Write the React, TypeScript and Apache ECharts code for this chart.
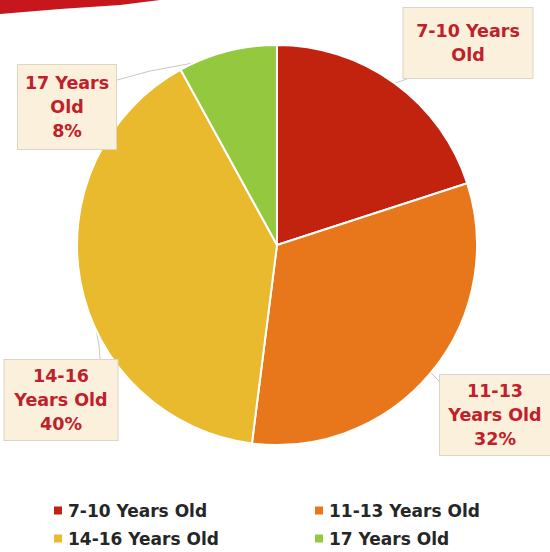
import React, { useEffect, useRef } from "react";
import * as echarts from "echarts";

const categories = ["7-10 Years Old", "11-13 Years Old", "14-16 Years Old", "17 Years Old"];
const values = [20, 32, 40, 8];
const labelTexts = ["7-10 Years\nOld", "11-13\nYears Old\n32%", "14-16\nYears Old\n40%", "17 Years\nOld\n8%"];
const colors = ["#C1230F", "#E8761A", "#E9B92E", "#93C83F"];

const labelBox = [
  { x: 468, y: 43, w: 107, pad: [11, 11], line: [[393, 84], [404, 80], [412, 77]] },
  { x: 495, y: 415, w: 92, pad: [4, 9], line: [[430, 372], [438, 380], [444, 388]] },
  { x: 61, y: 400, w: 95, pad: [4, 9], line: [[96, 330], [99, 345], [100, 359]] },
  { x: 67, y: 107, w: 80, pad: [6, 9], line: [[193, 63], [150, 71], [117, 80]] },
];

export default function App() {
  const ref = useRef<HTMLDivElement>(null);
  useEffect(() => {
    const chart = echarts.init(ref.current!, undefined, { renderer: "svg" });
    const font = "DejaVu Sans";
    const legendText = { fontFamily: font, fontSize: 17, fontWeight: "bold", color: "#262626" };
    chart.setOption({
      animation: false,
      backgroundColor: "#ffffff",
      color: colors,
      graphic: [
        {
          type: "polygon",
          shape: { points: [[0, 0], [160, 0], [120, 5], [60, 9], [0, 14]] },
          style: { fill: "#C8161D" },
        },
      ],
      legend: [
        {
          orient: "vertical",
          left: 47,
          top: 497,
          height: 80,
          itemWidth: 10,
          itemHeight: 10,
          itemGap: 11,
          icon: "rect",
          data: [categories[0], categories[2]],
          textStyle: legendText,
        },
        {
          orient: "vertical",
          left: 308,
          top: 497,
          height: 80,
          itemWidth: 10,
          itemHeight: 10,
          itemGap: 11,
          icon: "rect",
          data: [categories[1], categories[3]],
          textStyle: legendText,
        },
      ],
      series: [
        {
          type: "pie",
          center: [277, 245],
          radius: 200,
          startAngle: 90,
          clockwise: true,
          itemStyle: { borderColor: "#ffffff", borderWidth: 2 },
          label: {
            show: true,
            position: "outside",
            overflow: "none",
            fontFamily: font,
            fontSize: 17.5,
            fontWeight: "bold",
            color: "#C0202A",
            lineHeight: 24,
            align: "center",
            backgroundColor: "#FBF0DC",
            borderColor: "#DDD5C6",
            borderWidth: 1,
          },
          labelLine: { show: true, lineStyle: { color: "#C8C8C8", width: 1 } },
          labelLayout: (params: any) => {
            const p = labelBox[params.dataIndex];
            return {
              x: p.x,
              y: p.y,
              align: "center",
              verticalAlign: "middle",
              labelLinePoints: p.line,
            };
          },
          data: categories.map((c, i) => ({
            name: c,
            value: values[i],
            label: { formatter: labelTexts[i], width: labelBox[i].w, padding: labelBox[i].pad },
          })),
        },
      ],
    });
    return () => chart.dispose();
  }, []);
  return <div ref={ref} style={{ position: "fixed", left: 0, top: 0, width: 550, height: 552 }} />;
}
